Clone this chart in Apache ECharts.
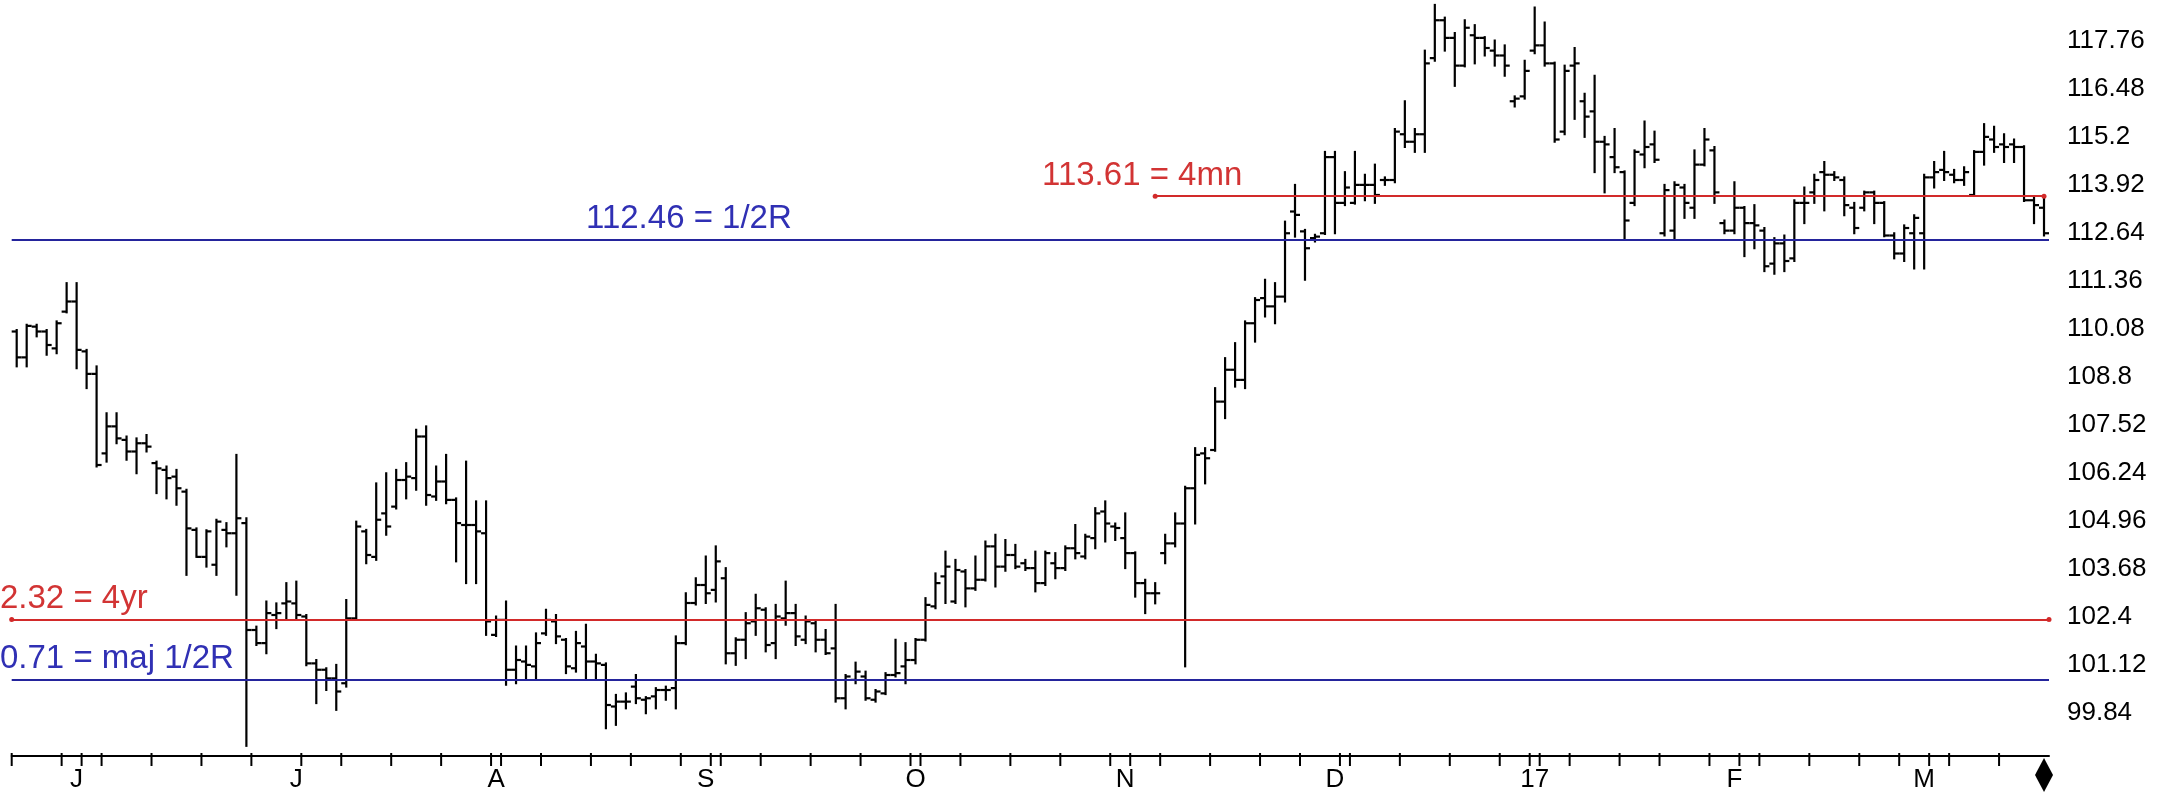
<!DOCTYPE html>
<html>
<head>
<meta charset="utf-8">
<script src="https://cdn.jsdelivr.net/npm/echarts@6/dist/echarts.min.js"></script>
<style>
  html, body { margin: 0; padding: 0; background: #fff; }
  #chart { width: 2167px; height: 795px; }
</style>
</head>
<body>
<div id="chart"></div>
<script>
// daily bars (open / high / low / close)
const open = [
  110.00,109.31,110.13,110.00,109.55,110.53,110.80,109.47,108.87,106.75,
  107.47,107.11,106.80,107.02,106.49,106.31,106.13,105.73,104.71,103.99,
  103.78,104.71,104.62,104.89,102.04,101.69,102.44,102.75,102.75,102.40,
  101.15,100.98,100.75,100.62,102.35,104.67,103.99,105.15,105.33,106.04,
  106.09,107.20,105.60,106.00,105.51,104.84,104.84,104.62,101.91,102.31,
  100.98,101.20,101.07,101.95,102.27,101.78,101.02,101.60,101.20,101.11,
  100.00,100.13,100.53,100.18,100.27,100.44,100.49,101.69,102.76,103.24,
  103.11,103.42,101.42,101.78,102.27,102.58,101.69,102.35,102.49,101.78,
  102.22,101.78,101.55,100.22,100.71,100.80,100.18,100.35,100.84,101.07,
  101.24,101.78,102.67,103.47,102.80,103.60,103.15,103.38,104.27,103.73,
  104.04,103.82,103.69,103.29,103.82,103.69,104.22,104.00,104.49,105.20,
  104.80,104.49,104.09,103.29,103.02,104.09,104.35,104.88,105.82,106.75,
  106.84,108.13,108.98,108.71,110.22,110.89,110.67,110.93,113.20,112.67,
  112.49,112.62,114.65,113.43,113.43,113.91,113.91,114.04,114.04,115.26,
  115.06,115.26,117.29,118.30,117.83,117.09,117.90,117.83,117.49,117.36,
  116.14,116.27,117.49,117.63,117.15,115.33,117.09,116.14,115.87,115.06,
  114.65,114.25,113.43,114.72,114.99,112.62,112.69,113.84,113.30,114.45,
  114.83,112.89,112.69,113.30,112.89,112.69,111.81,112.35,111.95,113.43,
  113.71,114.25,114.18,114.04,113.30,113.30,113.71,113.43,112.56,112.08,
  112.62,112.62,114.11,114.31,114.18,114.04,113.64,114.79,115.12,114.99,
  114.99,114.92,113.50,113.30
];
const high = [
  110.04,110.18,110.18,110.04,110.27,111.29,111.29,109.51,109.07,107.82,
  107.82,107.20,107.15,107.24,106.53,106.40,106.31,105.78,104.75,104.70,
  104.98,104.89,106.71,105.02,102.13,102.80,102.75,103.29,103.33,102.44,
  101.24,101.02,101.11,102.84,104.93,104.71,105.95,106.22,106.31,106.49,
  107.38,107.47,106.40,106.71,105.55,106.53,105.47,105.47,102.40,102.80,
  101.60,101.60,101.95,102.58,102.44,101.80,101.99,102.18,101.38,101.15,
  100.31,100.35,100.84,100.25,100.49,100.53,101.87,103.02,103.42,104.00,
  104.27,103.69,101.82,102.49,102.98,102.62,102.71,103.33,102.71,102.40,
  102.27,102.04,102.71,100.84,101.17,100.93,100.44,100.89,101.78,101.69,
  101.80,102.89,103.55,104.13,103.91,103.64,104.00,104.40,104.58,104.44,
  104.31,103.91,104.13,104.13,104.09,104.27,104.84,104.58,105.29,105.47,
  104.88,105.15,104.11,103.38,103.29,104.58,105.15,105.86,106.89,106.89,
  108.49,109.29,109.69,110.27,110.89,111.38,111.29,112.93,113.91,112.71,
  112.58,114.79,114.79,114.25,114.79,114.18,114.45,114.11,115.40,116.14,
  115.40,117.49,118.71,118.37,117.96,118.30,118.17,117.85,117.76,117.63,
  116.27,117.22,118.64,118.24,117.17,117.09,117.56,116.34,116.82,115.19,
  115.40,114.27,114.83,115.60,115.33,113.91,113.98,113.91,114.83,115.40,
  114.92,112.96,113.98,113.32,113.37,112.76,112.49,112.56,113.50,113.84,
  114.18,114.52,114.25,114.11,113.43,113.73,113.73,113.45,112.62,112.83,
  113.10,114.18,114.52,114.79,114.31,114.38,114.81,115.53,115.46,115.26,
  115.12,114.94,113.57,113.57
];
const low = [
  109.07,109.07,109.87,109.38,109.42,110.51,109.02,108.49,106.40,106.53,
  107.02,106.58,106.22,106.80,105.69,105.55,105.38,103.51,103.99,103.73,
  103.51,104.27,102.98,98.95,101.64,101.42,102.09,102.31,102.35,101.10,
  100.09,100.44,99.91,100.53,102.31,103.82,103.91,104.58,105.28,105.55,
  105.78,105.38,105.51,105.42,103.87,103.29,103.29,101.91,101.88,100.58,
  100.62,100.71,100.71,101.91,101.69,100.89,100.93,100.71,100.71,99.42,
  99.51,99.95,100.09,99.82,99.95,100.18,99.95,101.66,102.72,102.76,
  102.80,101.15,101.11,101.29,101.91,101.47,101.29,102.18,101.64,101.69,
  101.47,101.40,100.13,99.95,100.62,100.18,100.13,100.33,100.80,100.62,
  101.15,101.76,102.62,102.76,102.76,102.67,103.11,103.36,103.20,103.62,
  103.69,103.64,103.07,103.24,103.42,103.64,103.95,103.95,104.22,104.40,
  104.44,103.69,102.93,102.49,102.75,103.82,104.27,101.07,104.88,105.95,
  106.82,107.69,108.53,108.49,109.73,110.40,110.22,110.80,112.53,111.38,
  112.40,112.60,112.62,113.37,113.41,113.50,113.43,113.91,113.98,114.92,
  114.79,114.79,117.22,117.49,116.55,117.07,117.15,117.36,117.09,116.82,
  116.00,116.21,117.42,117.09,115.06,115.26,115.67,115.19,114.25,113.71,
  114.25,112.49,113.37,114.38,114.52,112.56,112.49,113.03,113.03,114.43,
  113.43,112.62,112.62,112.01,112.22,111.61,111.54,111.61,111.88,112.89,
  113.43,113.23,114.04,113.10,112.62,113.23,112.89,112.54,111.95,111.88,
  111.68,111.68,113.84,114.04,113.98,113.91,113.62,114.45,114.79,114.52,
  114.52,113.48,112.89,112.56
];
const close = [
  109.31,110.15,110.00,109.64,110.22,110.80,109.51,108.87,106.44,107.47,
  107.15,106.80,107.02,106.93,106.35,106.09,105.82,104.75,103.99,104.67,
  104.93,104.62,105.02,102.04,101.69,102.49,102.49,102.80,102.44,101.15,
  100.98,100.75,100.40,102.35,104.80,104.04,104.98,104.80,106.04,106.13,
  107.20,105.64,106.00,105.51,104.89,104.84,104.67,102.27,102.31,100.98,
  101.24,101.11,101.69,102.31,101.87,101.07,101.69,101.20,101.15,100.04,
  100.13,100.13,100.22,100.22,100.44,100.44,101.69,102.76,103.24,103.02,
  103.87,101.42,101.78,102.22,102.62,101.64,102.40,102.49,101.87,102.27,
  101.78,101.42,100.22,100.80,100.93,100.22,100.40,100.84,100.89,101.24,
  101.78,102.71,103.29,103.73,103.64,103.15,103.38,104.27,103.73,104.04,
  103.73,103.69,103.29,104.09,103.69,104.22,104.09,104.53,105.15,104.88,
  104.76,104.09,103.29,103.02,103.02,104.35,104.88,105.82,106.71,106.62,
  108.13,108.98,108.71,110.22,110.84,110.67,110.93,112.62,113.11,112.22,
  112.53,114.65,113.43,113.84,113.91,113.91,113.64,114.04,115.33,115.06,
  115.26,117.15,118.30,117.83,117.09,118.10,117.83,117.56,117.36,117.09,
  116.21,116.95,117.63,117.15,115.12,116.95,117.15,115.73,115.06,114.99,
  114.38,112.96,114.79,114.92,114.58,113.77,113.91,113.43,114.45,115.12,
  113.71,112.69,113.30,112.89,112.83,111.74,112.35,111.88,113.43,113.43,
  114.04,114.18,114.11,113.37,112.76,113.71,113.43,112.56,112.08,112.76,
  113.03,114.11,114.25,114.25,114.04,114.25,114.79,115.19,114.92,114.92,
  114.92,113.50,113.37,112.62
];

// axis text
const priceLabels = [99.84, 101.12, 102.4, 103.68, 104.96, 106.24, 107.52, 108.8,
  110.08, 111.36, 112.64, 113.92, 115.2, 116.48, 117.76];
const monthLabelIdx = [6, 28, 48, 69, 90, 111, 132, 152, 172, 191];
const monthLabels = ['J', 'J', 'A', 'S', 'O', 'N', 'D', '17', 'F', 'M'];
const weekTickIdx = [0, 5, 7, 9, 14, 19, 24, 29, 33, 38, 43, 48, 49, 53, 58, 62, 67, 70, 71,
  75, 80, 85, 90, 91, 95, 100, 105, 110, 112, 115, 120, 125, 129, 133, 134, 139, 144, 149,
  152, 153, 156, 161, 165, 170, 173, 175, 180, 185, 189, 192, 194, 199];

// reference levels
const blueLevels = [112.46, 100.71];
const redLevels = [102.32];
const red4mn = 113.61;
const red4mnStart = 114;

const categories = open.map((v, i) => String(i + 1));
const bars = open.map((v, i) => [i, open[i], high[i], low[i], close[i]]);

const BLUE = '#24249c';
const RED = '#d22a2a';
const FONT = "'Liberation Sans', Arial, sans-serif";
const AXIS_Y = 756;

const chart = echarts.init(document.getElementById('chart'));

function renderBar(params, api) {
  const x = api.value(0);
  const pO = api.coord([x, api.value(1)]);
  const pH = api.coord([x, api.value(2)]);
  const pL = api.coord([x, api.value(3)]);
  const pC = api.coord([x, api.value(4)]);
  const st = { stroke: '#000', lineWidth: 2.2 };
  return {
    type: 'group',
    children: [
      { type: 'line', shape: { x1: pH[0], y1: pH[1] - 1, x2: pL[0], y2: pL[1] + 1 }, style: st },
      { type: 'line', shape: { x1: pO[0] - 5, y1: pO[1], x2: pO[0], y2: pO[1] }, style: st },
      { type: 'line', shape: { x1: pC[0], y1: pC[1], x2: pC[0] + 5, y2: pC[1] }, style: st }
    ]
  };
}

chart.setOption({
  animation: false,
  backgroundColor: '#fff',
  grid: { left: 11.7, right: 118, top: 0, bottom: 795 - AXIS_Y },
  xAxis: {
    type: 'category',
    data: categories,
    boundaryGap: true,
    axisLine: { lineStyle: { color: '#000', width: 2 } },
    axisTick: { show: false },
    axisLabel: {
      interval: (i) => monthLabelIdx.includes(i),
      formatter: (v, i) => monthLabels[monthLabelIdx.indexOf(i)] || '',
      color: '#000',
      fontSize: 26,
      fontFamily: FONT,
      margin: 11
    },
    splitLine: { show: false }
  },
  yAxis: {
    type: 'value',
    position: 'right',
    min: 98.68,
    max: 118.84,
    axisLine: { show: false },
    axisTick: { show: false },
    splitLine: { show: false },
    axisLabel: {
      customValues: priceLabels,
      color: '#000',
      fontSize: 26,
      fontFamily: FONT,
      margin: 18
    }
  },
  series: [
    {
      type: 'custom',
      name: 'bars',
      renderItem: renderBar,
      data: bars,
      encode: { x: 0, y: [1, 2, 3, 4] },
      z: 3
    },
    {
      type: 'line',
      name: 'blue levels',
      data: [],
      markLine: {
        silent: true,
        symbol: 'none',
        label: { show: false },
        lineStyle: { type: 'solid', width: 2, color: BLUE },
        data: blueLevels.map(v => ({ yAxis: v }))
      }
    },
    {
      type: 'line',
      name: 'red levels',
      data: [],
      markLine: {
        silent: true,
        symbol: 'circle',
        symbolSize: 5,
        label: { show: false },
        lineStyle: { type: 'solid', width: 2, color: RED },
        itemStyle: { color: RED },
        data: redLevels.map(v => ({ yAxis: v })).concat([[
          { coord: [red4mnStart, red4mn] },
          { coord: [categories.length - 1, red4mn] }
        ]])
      }
    }
  ]
});

// level captions, weekly ticks and the end-of-data marker
const yPix = v => chart.convertToPixel({ yAxisIndex: 0 }, v);
const xPix = i => chart.convertToPixel({ xAxisIndex: 0 }, categories[i]);
const band = xPix(1) - xPix(0);
const lastX = xPix(categories.length - 1);
const caption = (text, x, level, color) => ({
  type: 'text', left: x, top: yPix(level) - 37,
  style: { text: text, fill: color, font: '33px ' + FONT }
});
const ticks = weekTickIdx.map(i => ({
  type: 'line',
  shape: { x1: xPix(i) - band / 2, y1: AXIS_Y - 3, x2: xPix(i) - band / 2, y2: AXIS_Y + 10 },
  style: { stroke: '#000', lineWidth: 2 }
}));
chart.setOption({
  graphic: [
    caption('112.46 = 1/2R', 586, 112.46, '#3030b4'),
    caption('113.61 = 4mn', 1042, 113.61, '#d23434'),
    caption('2.32 = 4yr', 0, 102.32, '#d23434'),
    caption('0.71 = maj 1/2R', 0, 100.71, '#3030b4'),
    {
      type: 'polygon',
      shape: { points: [[lastX, 758], [lastX + 9, 775], [lastX, 792], [lastX - 9, 775]] },
      style: { fill: '#000' }
    }
  ].concat(ticks)
});
</script>
</body>
</html>
